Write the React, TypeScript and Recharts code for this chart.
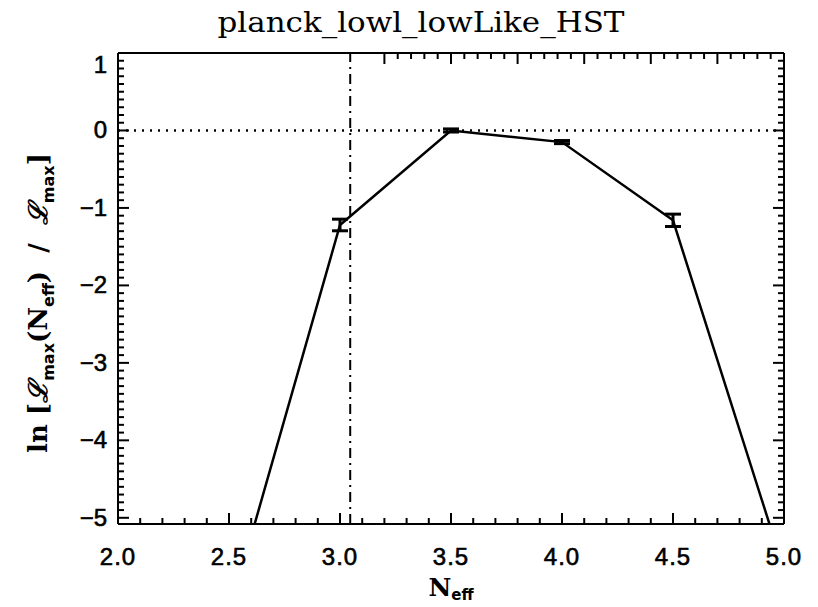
import { LineChart, Line, XAxis, YAxis, ReferenceLine, ErrorBar } from 'recharts'

// N_eff grid and ln-likelihood values
const nEff = [2.5, 3.0, 3.5, 4.0, 4.5, 5.0]
const lnLike = [-6.24, -1.22, 0.0, -0.15, -1.16, -5.67]
const lnLikeErr = [0, 0.075, 0.02, 0.02, 0.08, 0]

const xMajor = [2.0, 2.5, 3.0, 3.5, 4.0, 4.5, 5.0]
const yMajor = [1, 0, -1, -2, -3, -4, -5]
const nEffStandard = 3.046

const xTicks: number[] = []
for (let i = 20; i <= 50; i++) xTicks.push(i / 10)
const yTicks: number[] = []
for (let i = -50; i <= 10; i++) yTicks.push(i / 10)

const data = nEff.map((n, i) => ({ n, v: lnLike[i], err: lnLikeErr[i] }))

const near = (a: number, list: number[]) => list.some((b) => Math.abs(a - b) < 1e-6)
const fmtY = (v: number) => (v < 0 ? '\u2212' + Math.abs(v) : String(v))

const labelFont = { fontFamily: 'Liberation Sans', fontSize: 24, fill: '#000', stroke: '#000', strokeWidth: 0.6 }

const XTick = ({ x, y, payload, top }: any) => {
  const major = near(payload.value, xMajor)
  const len = major ? 11 : 6
  const dir = top ? 1 : -1
  return (
    <g>
      <line x1={x} x2={x} y1={y} y2={y + dir * len} stroke="#000" strokeWidth={2} />
      {major && !top && (
        <text x={x} y={y + 41} textAnchor="middle" {...labelFont} letterSpacing={1}>
          {payload.value.toFixed(1)}
        </text>
      )}
    </g>
  )
}

const YTick = ({ x, y, payload, right }: any) => {
  const major = near(payload.value, yMajor)
  const len = major ? 11 : 6
  const dir = right ? -1 : 1
  // the top label sits a little below its tick in the original
  const shift = payload.value === 1 ? 12 : 0
  return (
    <g>
      <line x1={x} x2={x + dir * len} y1={y} y2={y} stroke="#000" strokeWidth={2} />
      {major && !right && (
        <text x={x - 11} y={y + 8 + shift} textAnchor="end" {...labelFont}>
          {fmtY(payload.value)}
        </text>
      )}
    </g>
  )
}

export default function App() {
  return (
    <div style={{ position: 'absolute', left: 0, top: 0, width: 818, height: 607, background: '#fff' }}>
      <LineChart
        width={818}
        height={607}
        data={data}
        margin={{ top: 13, right: 14, bottom: 43, left: 0 }}
      >
        <XAxis
          dataKey="n"
          type="number"
          domain={[2, 5]}
          ticks={xTicks}
          interval={0}
          allowDataOverflow
          height={40}
          tickSize={0}
          tickMargin={0}
          tick={<XTick />}
          axisLine={{ stroke: '#000', strokeWidth: 2 }}
        />
        <XAxis
          xAxisId="top"
          orientation="top"
          type="number"
          domain={[2, 5]}
          ticks={xTicks}
          interval={0}
          allowDataOverflow
          height={40}
          tickSize={0}
          tickMargin={0}
          tick={<XTick top />}
          axisLine={{ stroke: '#000', strokeWidth: 2 }}
        />
        <YAxis
          type="number"
          domain={[-5.08, 1.0]}
          ticks={yTicks}
          interval={0}
          allowDataOverflow
          width={118}
          tickSize={0}
          tickMargin={0}
          tick={<YTick />}
          axisLine={{ stroke: '#000', strokeWidth: 2 }}
        />
        <YAxis
          yAxisId="right"
          orientation="right"
          type="number"
          domain={[-5.08, 1.0]}
          ticks={yTicks}
          interval={0}
          allowDataOverflow
          width={20}
          tickSize={0}
          tickMargin={0}
          tick={<YTick right />}
          axisLine={{ stroke: '#000', strokeWidth: 2 }}
        />
        <ReferenceLine y={0} stroke="#000" strokeWidth={2.5} strokeDasharray="2 6" />
        <ReferenceLine x={nEffStandard} stroke="#000" strokeWidth={2} strokeDasharray="10 5 2 5" />
        <Line
          dataKey="v"
          stroke="#000"
          strokeWidth={2.5}
          dot={false}
          isAnimationActive={false}
        >
          <ErrorBar dataKey="err" direction="y" width={8} stroke="#000" strokeWidth={3} />
        </Line>
      </LineChart>
      <svg width={818} height={607} style={{ position: 'absolute', left: 0, top: 0, pointerEvents: 'none' }}>
        <text x={421} y={32} textAnchor="middle" fontFamily="DejaVu Serif" fontSize={27} textLength={407} lengthAdjust="spacingAndGlyphs">
          planck_lowl_lowLike_HST
        </text>
        <text
          transform="rotate(-90)"
          x={-303}
          y={47}
          textAnchor="middle"
          fontFamily="DejaVu Serif"
          fontWeight="bold"
          fontSize={26}
          style={{ whiteSpace: 'pre' }}
        >
          {'ln ['}
          <tspan fontStyle="italic">ℒ</tspan>
          <tspan fontSize={16} dy={7} fontFamily="DejaVu Sans">max</tspan>
          <tspan dy={-7}>(N</tspan>
          <tspan fontSize={16} dy={7} fontFamily="DejaVu Sans">eff</tspan>
          <tspan dy={-7}>{')  /  '}</tspan>
          <tspan fontStyle="italic">ℒ</tspan>
          <tspan fontSize={16} dy={7} fontFamily="DejaVu Sans">max</tspan>
          <tspan dy={-7}>]</tspan>
        </text>
        <text x={451} y={596} textAnchor="middle" fontFamily="DejaVu Serif" fontWeight="bold" fontSize={25}>
          N<tspan fontSize={15} dy={4} fontFamily="DejaVu Sans">eff</tspan>
        </text>
      </svg>
    </div>
  )
}
